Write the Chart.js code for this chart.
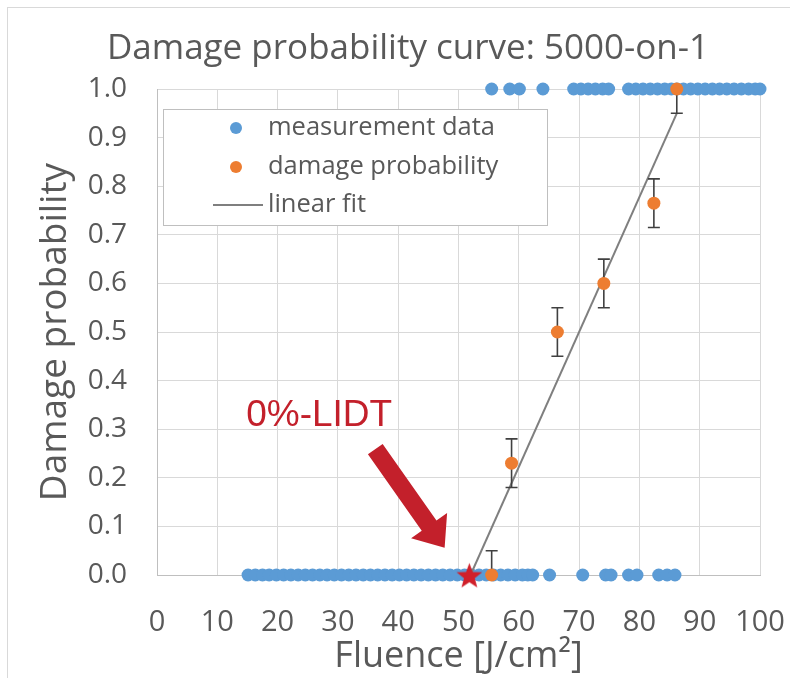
<!DOCTYPE html>
<html>
<head>
<meta charset="utf-8">
<script src="https://cdn.jsdelivr.net/npm/chart.js@4.4.0/dist/chart.umd.min.js"></script>
<style>
  html, body { margin: 0; padding: 0; background: #fff; overflow: hidden; }
  #wrap { width: 790px; height: 678px; position: relative; }
  canvas { display: block; }
</style>
</head>
<body>
<div id="wrap"><canvas id="chart"></canvas></div>
<script>
// measurement data: fluence of sites that did not damage (y = 0) and did (y = 1)
const noDamageX = [15.1, 16.3, 17.5, 18.6, 19.8, 21.0, 22.2, 23.4, 24.6, 25.8, 27.0, 28.2, 29.4, 30.6,
    31.8, 33.0, 34.2, 35.4, 36.6, 37.8, 39.0, 40.2, 41.4, 42.6, 43.8, 45.0, 46.2, 47.4, 48.6, 49.8,
    51.0, 52.2, 53.4, 54.6, 55.8, 57.0, 58.2, 59.4, 60.6, 61.5, 62.3, 65.1, 70.6, 74.4, 75.3,
    78.2, 79.6, 83.2, 84.6, 85.9];
const damageX = [55.5, 58.5, 60.1, 64.0, 69.1, 70.3, 71.5, 72.7, 73.9, 74.9, 78.2, 79.4, 80.6, 81.8,
    83.0, 84.2, 85.3, 86.2, 87.3, 88.5, 89.7, 90.9, 92.1, 93.3, 94.5, 95.7, 96.9, 98.1, 99.2, 100.0];

// damage probability per fluence bin, with error bars
const probX = [55.5, 58.8, 66.4, 74.1, 82.4, 86.2];
const probY = [0.0, 0.23, 0.50, 0.60, 0.765, 1.0];
const probErrUp = [0.05, 0.05, 0.05, 0.05, 0.05, 0.0];
const probErrDown = [0.0, 0.05, 0.05, 0.05, 0.05, 0.05];

// linear fit end points
const fitX = [52.0, 86.2];
const fitY = [0.0, 0.95];

// 0%-LIDT marker and its annotation (data units)
const lidtX = [51.8];
const lidtY = [0.0];
const arrowFrom = [36.2, 0.259];
const arrowTo = [47.7, 0.056];
const lidtLabelAt = [26.9, 0.327];

const xTickValues = [0, 10, 20, 30, 40, 50, 60, 70, 80, 90, 100];
const yTickValues = [0, 0.1, 0.2, 0.3, 0.4, 0.5, 0.6, 0.7, 0.8, 0.9, 1.0];

const BLUE = '#5b9bd5';
const ORANGE = '#ed7d31';
const TEXT = '#595959';
const RED = '#c3202b';
const FONT = "'Open Sans', sans-serif";

function starImage(size, color) {
    const c = document.createElement('canvas');
    c.width = size;
    c.height = size;
    const g = c.getContext('2d');
    const R = size / 2, r = R * 0.42;
    g.beginPath();
    for (let i = 0; i < 10; i++) {
        const a = -Math.PI / 2 + i * Math.PI / 5;
        const rad = i % 2 ? r : R;
        g.lineTo(R + rad * Math.cos(a), R + 1.5 + rad * Math.sin(a));
    }
    g.closePath();
    g.fillStyle = color;
    g.fill();
    return c;
}

const measurement = noDamageX.map((x) => ({ x, y: 0 }))
    .concat(damageX.map((x) => ({ x, y: 1 })));

const extras = {
    id: 'extras',
    beforeDraw(chart) {
        const ctx = chart.ctx;
        ctx.save();
        ctx.fillStyle = '#fff';
        ctx.fillRect(0, 0, chart.width, chart.height);
        ctx.strokeStyle = '#d9d9d9';
        ctx.lineWidth = 1;
        ctx.strokeRect(7.5, 7.5, chart.width, chart.height);
        ctx.restore();
    },
    beforeDatasetDraw(chart, args) {
        if (args.index !== 1) return;
        const { ctx, scales: { x, y } } = chart;
        ctx.save();
        ctx.strokeStyle = '#404040';
        ctx.lineWidth = 1.6;
        probX.forEach((v, i) => {
            const px = x.getPixelForValue(v);
            const top = y.getPixelForValue(probY[i] + probErrUp[i]);
            const bot = y.getPixelForValue(probY[i] - probErrDown[i]);
            ctx.beginPath();
            ctx.moveTo(px, top);
            ctx.lineTo(px, bot);
            if (probErrUp[i] > 0) {
                ctx.moveTo(px - 6, top);
                ctx.lineTo(px + 6, top);
            }
            if (probErrDown[i] > 0) {
                ctx.moveTo(px - 6, bot);
                ctx.lineTo(px + 6, bot);
            }
            ctx.stroke();
        });
        ctx.restore();
    },
    afterDraw(chart) {
        const { ctx, scales: { x, y }, chartArea } = chart;
        ctx.save();

        // title
        ctx.fillStyle = TEXT;
        ctx.font = `35px ${FONT}`;
        ctx.textAlign = 'center';
        ctx.textBaseline = 'middle';
        ctx.fillText('Damage probability curve: 5000-on-1', 408, 49);

        // arrow
        const x0 = x.getPixelForValue(arrowFrom[0]), y0 = y.getPixelForValue(arrowFrom[1]);
        const x1 = x.getPixelForValue(arrowTo[0]), y1 = y.getPixelForValue(arrowTo[1]);
        const len = Math.hypot(x1 - x0, y1 - y0);
        const ux = (x1 - x0) / len, uy = (y1 - y0) / len;
        const nx = -uy, ny = ux;
        const hw = 9, headLen = 27, headW = 22;
        const bx = x1 - ux * headLen, by = y1 - uy * headLen;
        ctx.beginPath();
        ctx.moveTo(x0 + nx * hw, y0 + ny * hw);
        ctx.lineTo(bx + nx * hw, by + ny * hw);
        ctx.lineTo(bx + nx * headW, by + ny * headW);
        ctx.lineTo(x1, y1);
        ctx.lineTo(bx - nx * headW, by - ny * headW);
        ctx.lineTo(bx - nx * hw, by - ny * hw);
        ctx.lineTo(x0 - nx * hw, y0 - ny * hw);
        ctx.closePath();
        ctx.fillStyle = RED;
        ctx.fill();

        // annotation label
        ctx.font = "37px 'Liberation Sans', Arial, sans-serif";
        ctx.fillText('0%-LIDT', x.getPixelForValue(lidtLabelAt[0]), y.getPixelForValue(lidtLabelAt[1]));

        // legend box
        const lx = chartArea.left + 6, ly = chartArea.top + 20;
        ctx.fillStyle = '#fff';
        ctx.fillRect(lx, ly, 384, 116);
        ctx.strokeStyle = '#bfbfbf';
        ctx.lineWidth = 1;
        ctx.strokeRect(lx + 0.5, ly + 0.5, 384, 116);
        const mx = lx + 73;
        const rows = [ly + 19, ly + 58, ly + 96];
        ctx.fillStyle = BLUE;
        ctx.beginPath();
        ctx.arc(mx, rows[0], 6, 0, Math.PI * 2);
        ctx.fill();
        ctx.fillStyle = ORANGE;
        ctx.beginPath();
        ctx.arc(mx, rows[1], 6, 0, Math.PI * 2);
        ctx.fill();
        ctx.strokeStyle = '#7f7f7f';
        ctx.lineWidth = 2;
        ctx.beginPath();
        ctx.moveTo(mx - 23, rows[2]);
        ctx.lineTo(mx + 27, rows[2]);
        ctx.stroke();
        ctx.fillStyle = TEXT;
        ctx.font = `25.5px ${FONT}`;
        ctx.textAlign = 'left';
        ctx.fillText('measurement data', lx + 105, rows[0]);
        ctx.fillText('damage probability', lx + 105, rows[1]);
        ctx.fillText('linear fit', lx + 105, rows[2]);
        ctx.restore();
    },
};

new Chart(document.getElementById('chart'), {
    type: 'scatter',
    data: {
        datasets: [
            {
                label: 'measurement data',
                data: measurement,
                backgroundColor: BLUE,
                borderColor: BLUE,
                pointRadius: 6.5,
                borderWidth: 0,
                clip: false,
                order: 3,
            },
            {
                label: 'damage probability',
                data: probX.map((x, i) => ({ x, y: probY[i] })),
                backgroundColor: ORANGE,
                borderColor: ORANGE,
                pointRadius: 6.5,
                borderWidth: 0,
                clip: false,
                order: 1,
            },
            {
                label: 'linear fit',
                type: 'line',
                data: fitX.map((x, i) => ({ x, y: fitY[i] })),
                borderColor: '#7f7f7f',
                borderWidth: 2,
                pointRadius: 0,
                fill: false,
                order: 2,
            },
            {
                label: '0%-LIDT',
                data: lidtX.map((x, i) => ({ x, y: lidtY[i] })),
                pointStyle: starImage(27, '#d0202a'),
                clip: false,
                order: 0,
            },
        ],
    },
    options: {
        responsive: true,
        maintainAspectRatio: false,
        animation: false,
        layout: { padding: { top: 89, right: 30, left: 0, bottom: 0 } },
        plugins: {
            legend: { display: false },
            title: { display: false },
            tooltip: { enabled: false },
        },
        scales: {
            x: {
                type: 'linear',
                min: 0,
                max: 100,
                afterBuildTicks: (s) => { s.ticks = xTickValues.map((value) => ({ value })); },
                afterFit: (s) => {
                    s.height = 103;
                    s.paddingLeft = 0;
                    s.paddingRight = 0;
                },
                ticks: { color: TEXT, font: { family: FONT, size: 29 }, padding: 30, maxRotation: 0 },
                grid: { color: '#d9d9d9', drawTicks: false },
                border: { color: '#bfbfbf' },
                title: {
                    display: true,
                    text: 'Fluence [J/cm²]',
                    color: TEXT,
                    font: { family: FONT, size: 36 },
                    padding: { top: 0, bottom: 0 },
                },
            },
            y: {
                min: 0,
                max: 1,
                afterBuildTicks: (s) => { s.ticks = yTickValues.map((value) => ({ value })); },
                afterFit: (s) => { s.width = 157; },
                ticks: {
                    color: TEXT,
                    font: { family: FONT, size: 28 },
                    padding: 30,
                    callback: (v) => Number(v).toFixed(1),
                },
                grid: { color: '#d9d9d9', drawTicks: false },
                border: { color: '#bfbfbf' },
                title: {
                    display: true,
                    text: 'Damage probability',
                    color: TEXT,
                    font: { family: FONT, size: 37 },
                    padding: { top: 33, bottom: 0 },
                },
            },
        },
    },
    plugins: [extras],
});
</script>
</body>
</html>
